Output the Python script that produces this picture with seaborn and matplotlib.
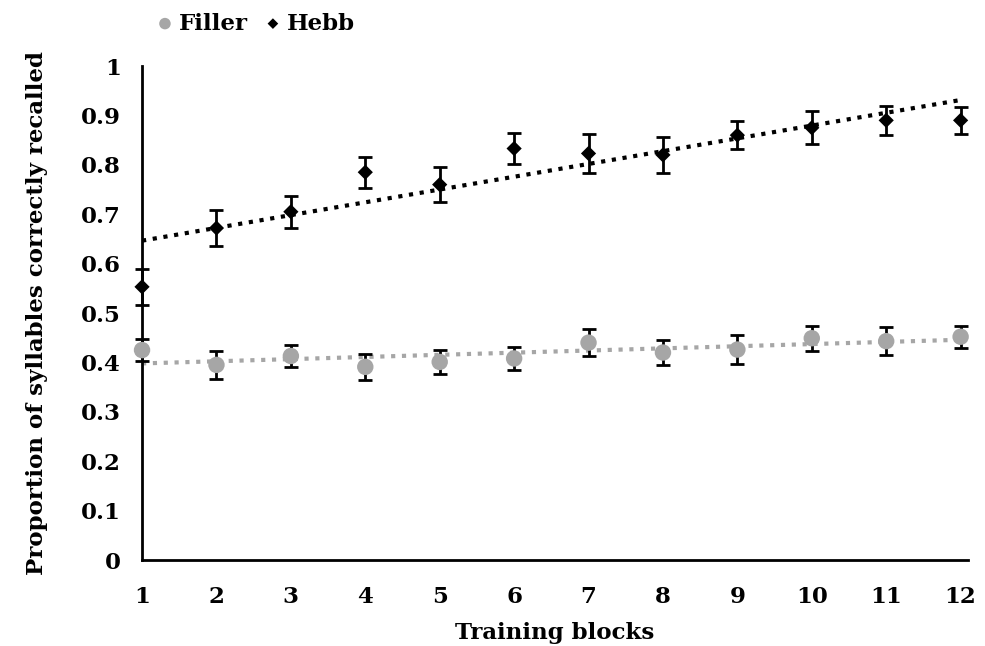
import numpy as np
import pandas as pd
import matplotlib
matplotlib.use("Agg")
import matplotlib.pyplot as plt
import seaborn as sns

# --- data ---
blocks = [1, 2, 3, 4, 5, 6, 7, 8, 9, 10, 11, 12]
hebb = [0.553, 0.672, 0.705, 0.785, 0.760, 0.833, 0.823, 0.820, 0.860, 0.875, 0.890, 0.890]
hebb_err = [0.037, 0.037, 0.032, 0.031, 0.036, 0.031, 0.039, 0.036, 0.028, 0.033, 0.029, 0.028]
filler = [0.425, 0.395, 0.413, 0.391, 0.401, 0.408, 0.440, 0.420, 0.426, 0.449, 0.443, 0.452]
filler_err = [0.022, 0.029, 0.022, 0.027, 0.025, 0.024, 0.027, 0.025, 0.030, 0.025, 0.028, 0.022]
y_ticks = [0, 0.1, 0.2, 0.3, 0.4, 0.5, 0.6, 0.7, 0.8, 0.9, 1]
y_ticklabels = ["0", "0.1", "0.2", "0.3", "0.4", "0.5", "0.6", "0.7", "0.8", "0.9", "1"]

df = pd.DataFrame({
    "block": blocks * 2,
    "prop": filler + hebb,
    "err": filler_err + hebb_err,
    "cond": ["Filler"] * 12 + ["Hebb"] * 12,
})

sns.set_style("white")
plt.rcParams['font.family'] = ['DejaVu Serif']
plt.rcParams['font.weight'] = 'bold'
for k in ['text.color', 'axes.labelcolor', 'xtick.color', 'ytick.color']:
    plt.rcParams[k] = 'black'

colors = {"Filler": "#a6a6a6", "Hebb": "#000000"}
markers = {"Filler": "o", "Hebb": "D"}
sizes = {"Filler": 140, "Hebb": 60}

fig = plt.figure(figsize=(9.85, 6.46), dpi=100)
ax = fig.add_axes([0.1442, 0.1331, 0.8386, 0.7647])

# trend lines (linear fit)
for cond in ["Filler", "Hebb"]:
    sub = df[df["cond"] == cond]
    sns.regplot(data=sub, x="block", y="prop", ax=ax, scatter=False, ci=None,
                line_kws=dict(color=colors[cond], ls=(0, (1, 1.6)), lw=3))

# error bars
for cond in ["Filler", "Hebb"]:
    sub = df[df["cond"] == cond]
    ax.errorbar(sub["block"], sub["prop"], yerr=sub["err"], fmt="none",
                ecolor="black", elinewidth=2, capsize=5, capthick=2,
                zorder=3, clip_on=False)

# points
for cond in ["Filler", "Hebb"]:
    sub = df[df["cond"] == cond]
    sns.scatterplot(data=sub, x="block", y="prop", ax=ax, color=colors[cond],
                    marker=markers[cond], s=sizes[cond], edgecolor="none",
                    zorder=4, clip_on=False, label=cond)

ax.set_xlim(1, 12.1)
ax.set_ylim(0, 1)
ax.set_xticks(blocks)
ax.set_xticklabels([str(b) for b in blocks])
ax.set_yticks(y_ticks)
ax.set_yticklabels(y_ticklabels)
ax.tick_params(direction="inout", length=14, width=2, labelsize=16.5)
ax.tick_params(axis="x", pad=12)
ax.tick_params(axis="y", pad=8)
for s in ["top", "right"]:
    ax.spines[s].set_visible(False)
for s in ["left", "bottom"]:
    ax.spines[s].set_linewidth(2)
    ax.spines[s].set_color("black")

ax.set_xlabel("Training blocks", fontsize=16.5, fontweight="bold", labelpad=10)
ax.set_ylabel("Proportion of syllables correctly recalled", fontsize=16.5,
              fontweight="bold", labelpad=24)

leg = ax.legend(loc="lower left", bbox_to_anchor=(0.0, 1.045), ncol=2,
                frameon=False, fontsize=16.5, handletextpad=0.0,
                columnspacing=0.5, borderaxespad=0, markerscale=0.7,
                handlelength=1.2)
for t in leg.get_texts():
    t.set_fontweight("bold")

fig.savefig("out.png", dpi=100)
